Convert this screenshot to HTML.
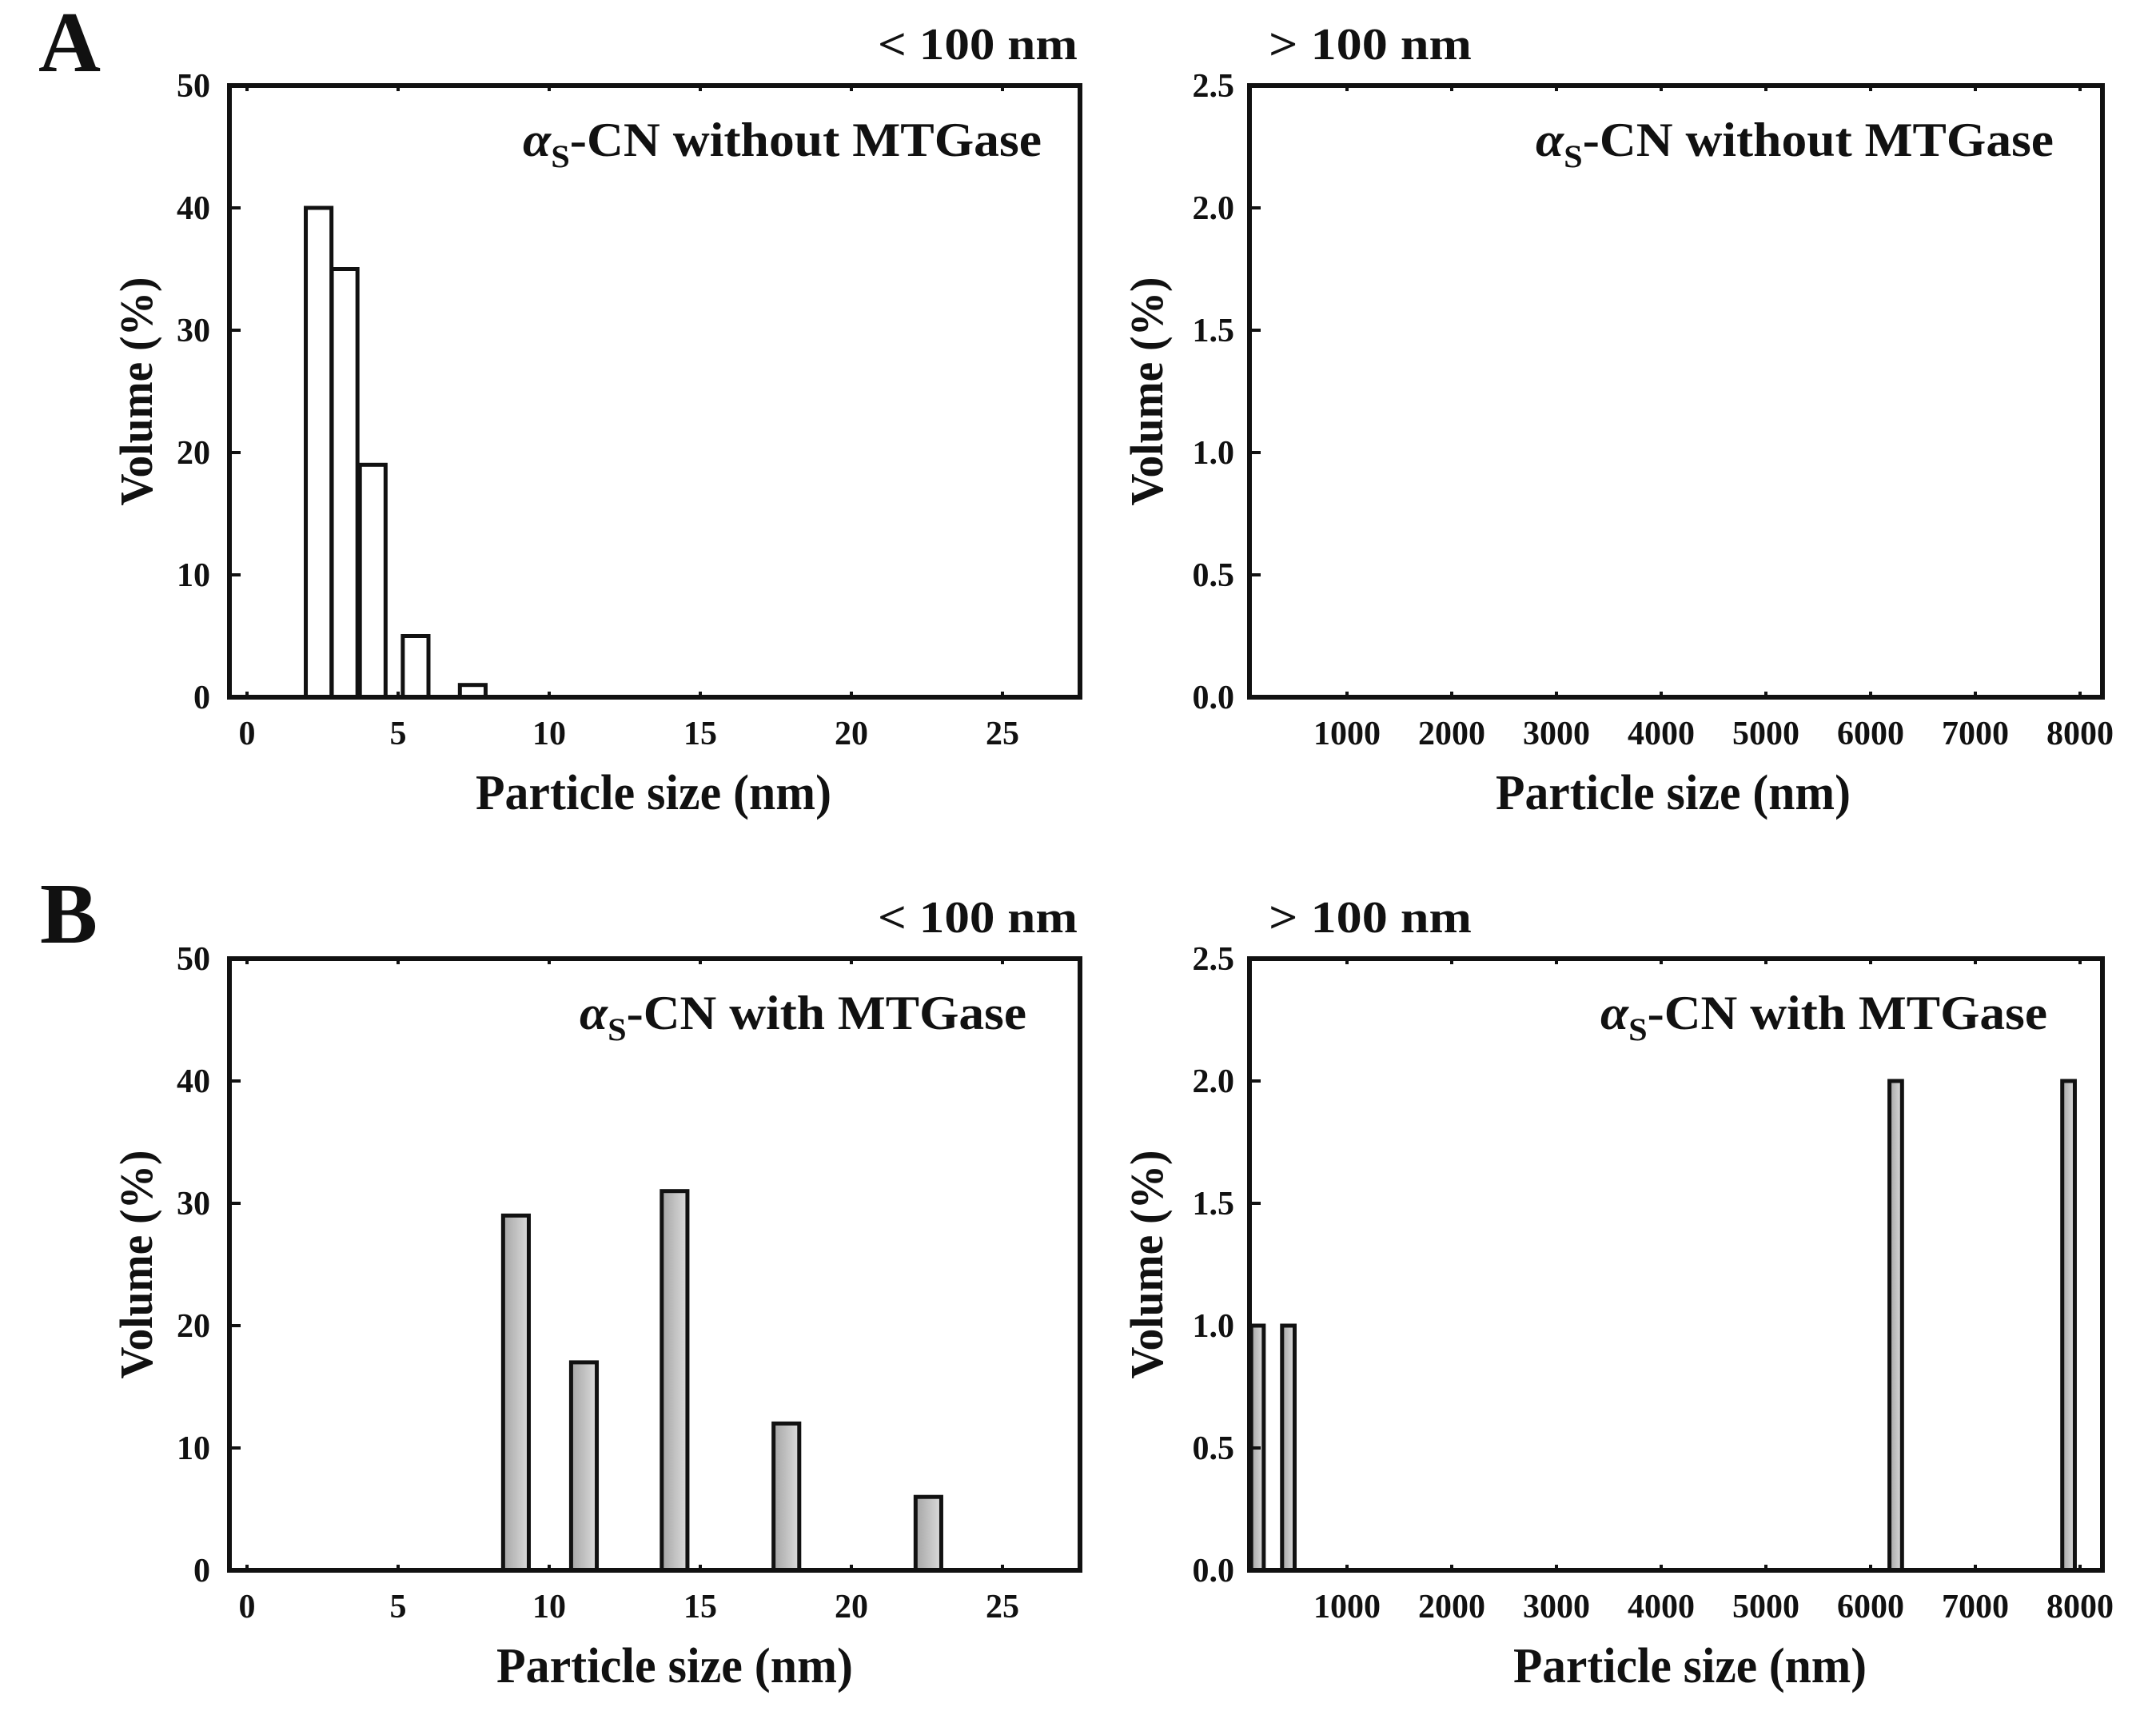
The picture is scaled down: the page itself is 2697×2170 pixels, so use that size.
<!DOCTYPE html>
<html><head><meta charset="utf-8"><style>
html,body{margin:0;padding:0;background:#fff}
svg text{font-family:"Liberation Serif",serif;font-weight:bold;fill:#111}
</style></head><body>
<svg id="fig" width="2697" height="2165" viewBox="0 0 2697 2165" xmlns="http://www.w3.org/2000/svg">
<defs><linearGradient id="gb" x1="0" x2="1" y1="0" y2="0"><stop offset="0" stop-color="#a5a5a5"/><stop offset="1" stop-color="#dcdcdc"/></linearGradient></defs>
<text x="48" y="89" font-size="108">A</text>
<text x="50" y="1179" font-size="108">B</text>
</svg>
<script>
// Data
const smallTicksX = [0,5,10,15,20,25];
const smallTicksY = [0,10,20,30,40,50];
const largeTicksX = [1000,2000,3000,4000,5000,6000,7000,8000];
const largeTicksY = [0,0.5,1.0,1.5,2.0,2.5];
const aSmallCenters = [2.37,3.23,4.16,5.58,7.47];
const aSmallValues = [40,35,19,5,1];
const aLargeCenters = [];
const aLargeValues = [];
const bSmallCenters = [8.9,11.15,14.15,17.85,22.55];
const bSmallValues = [29,17,31,12,6];
const bLargeCenters = [145,440,6240,7890];
const bLargeValues = [1,1,2,2];

const svg = document.getElementById('fig');
const NS = 'http://www.w3.org/2000/svg';
function mk(tag, attrs){const e=document.createElementNS(NS,tag);for(const k in attrs)e.setAttribute(k,attrs[k]);svg.appendChild(e);return e;}

function panel(o){
  const sx=v=>o.x0px+(v-o.x0v)*o.pxPerX;
  const sy=v=>o.bottom-(v/o.ymax)*(o.bottom-o.top);
  // bars
  o.centers.forEach((c,i)=>{
    const r=mk('rect',{x:sx(c-o.bw/2),y:sy(o.values[i]),width:o.bw*o.pxPerX,height:sy(0)-sy(o.values[i]),fill:o.fill,stroke:'#111','stroke-width':5});
    
    
  });
  // frame
  const f=mk('rect',{x:o.left,y:o.top,width:o.right-o.left,height:o.bottom-o.top,fill:'none',stroke:'#111','stroke-width':6});
  
  
  // y ticks
  o.yticks.forEach(t=>{
    const y=sy(t);
    const l=mk('line',{x1:o.left,x2:o.left+14,y1:y,y2:y,stroke:'#111','stroke-width':4});
    
    
    const tx=mk('text',{x:o.ylabRight,y:y+14,'font-size':42,'text-anchor':'end'});
    tx.textContent=o.yfmt(t);
    
    
  });
  // x ticks
  o.xticks.forEach(t=>{
    const x=sx(t);
    mk('line',{x1:x,x2:x,y1:o.bottom,y2:o.bottom-7,stroke:'#111','stroke-width':4});
    mk('line',{x1:x,x2:x,y1:o.top,y2:o.top+7,stroke:'#111','stroke-width':4});
    const tx=mk('text',{x:x,y:o.bottom+59,'font-size':42,'text-anchor':'middle'});
    tx.textContent=String(t);
    
    
  });
  // x title
  const xt=mk('text',{x:(o.xtA+o.xtB)/2,y:o.bottom+140,'font-size':62,'text-anchor':'middle',textLength:o.xtB-o.xtA,lengthAdjust:'spacingAndGlyphs'});
  xt.textContent='Particle size (nm)';
  
  
  // y title
  const cy=(o.top+o.bottom)/2;
  const yt=mk('text',{x:0,y:0,'font-size':58,'text-anchor':'middle',transform:`translate(${o.ytX+20},${cy}) rotate(-90)`,textLength:286,lengthAdjust:'spacingAndGlyphs'});
  yt.textContent='Volume (%)';
  
  
  // inset label
  const il=mk('text',{x:o.inA,y:o.inY,'font-size':60,textLength:o.inB-o.inA,lengthAdjust:'spacingAndGlyphs'});
  il.innerHTML='<tspan font-style="italic">α</tspan><tspan dy="14" font-size="40">S</tspan><tspan dy="-14">-CN '+o.inText+'</tspan>';
  
  
  // range label
  const rl=mk('text',{x:o.rA,y:o.top-33,'font-size':56,textLength:o.rB-o.rA,lengthAdjust:'spacingAndGlyphs'});
  rl.textContent=o.rText;
  
  
}
const rows=[{top:107,bottom:872,d:0},{top:1199,bottom:1964,d:1}];
rows.forEach(r=>{
  const B=r.d===1, off=B?1091:0;
  panel({id:(B?'b':'a')+'-small',top:r.top,bottom:r.bottom,left:287,right:1351,x0px:309,x0v:0,pxPerX:37.8,ymax:50,bw:0.85,
    centers:B?bSmallCenters:aSmallCenters,values:B?bSmallValues:aSmallValues,fill:B?'url(#gb)':'#fff',
    yticks:smallTicksY,xticks:smallTicksX,yfmt:t=>String(t),ylabRight:263,
    xtA:B?621:595,xtB:B?1067:1040,ytX:170,
    inA:B?725:654,inB:B?1284:1303,inY:r.top+88,inText:B?'with MTGase':'without MTGase',
    rA:1098,rB:1348,rText:'< 100 nm'});
  panel({id:(B?'b':'a')+'-large',top:r.top,bottom:r.bottom,left:1563,right:2630,x0px:1685,x0v:1000,pxPerX:0.131,ymax:2.5,bw:120,
    centers:B?bLargeCenters:aLargeCenters,values:B?bLargeValues:aLargeValues,fill:'url(#gb)',
    yticks:largeTicksY,xticks:largeTicksX,yfmt:t=>t.toFixed(1),ylabRight:1544,
    xtA:B?1893:1871,xtB:B?2335:2315,ytX:1434,
    inA:B?2002:1921,inB:B?2561:2569,inY:r.top+88,inText:B?'with MTGase':'without MTGase',
    rA:1587,rB:1841,rText:'> 100 nm'});
});
</script>
</body></html>
